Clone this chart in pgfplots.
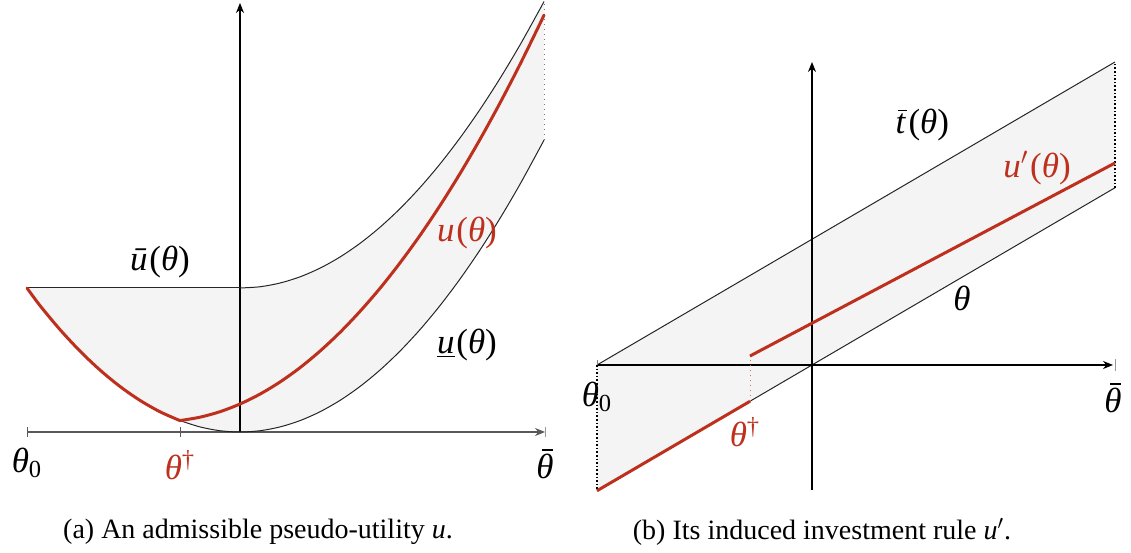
\documentclass[border=0pt]{standalone}
\usepackage{pgfplots}
\pgfplotsset{compat=1.18}
\usepgfplotslibrary{fillbetween}
\usetikzlibrary{arrows.meta}
\usepackage{fontspec}
\setmainfont{Liberation Serif}

\definecolor{ured}{RGB}{190,48,30}
\definecolor{band}{RGB}{244,244,244}

% italic symbols set in the text font
\newcommand{\barred}[3]{\leavevmode\vbox{\offinterlineskip\halign{\hfil##\hfil\cr
  \kern#1\rule{#2}{0.05em}\cr\noalign{\kern0.07em}\textit{#3}\cr}}}
\newcommand{\tht}{\textit{θ}}
\newcommand{\thz}{\tht\textsubscript{0}}
\newcommand{\thd}{\tht\textsuperscript{†}}
\newcommand{\thb}{\barred{0.14em}{0.3em}{θ}}
\newcommand{\ofth}{\kern0.05em(\tht\/)}

\pgfplotsset{
  panel/.style={scale only axis, axis lines=none, clip=false, anchor=south west, width=259pt},
}
\tikzset{axarrow/.style={line width=0.6pt, -{Stealth[length=5pt,width=4pt]}},
  lbl/.style={font=\fontsize{17.5}{20}\selectfont}}

\begin{document}
\begin{tikzpicture}[every node/.style={font=\fontsize{14}{17}\selectfont}]

% ---------- (a) pseudo-utility ----------
\begin{axis}[panel, at={(13.5pt,57.5pt)}, height=216pt,
  xmin=-2.13, xmax=3.05, ymin=0, ymax=4.32]
  % upper envelope
  \addplot[name path=ubar, draw=none, smooth] coordinates {
    (-2.13,1.44) (-1.6,1.44) (-1.2,1.44) (-0.8,1.44) (-0.4,1.44) (-0.2,1.44) (0,1.44)
    (0.2,1.4524) (0.4,1.4896) (0.6,1.5516)
    (0.8,1.6384) (1.0,1.75) (1.2,1.8864) (1.4,2.0476) (1.6,2.2336) (1.8,2.4444)
    (2.0,2.68) (2.2,2.9404) (2.4,3.2256) (2.6,3.5356) (2.8,3.8704) (3.0,4.23) (3.04,4.3049)};
  % lower envelope
  \addplot[name path=ulow, draw=none, smooth] coordinates {
    (-2.13,1.44) (-2.0,1.264) (-1.8,1.0238) (-1.6,0.809) (-1.4,0.6194) (-1.2,0.455)
    (-1.0,0.316) (-0.8,0.2022) (-0.6,0.1138) (-0.4,0.0506) (-0.2,0.0126) (0,0)
    (0.2,0.0126) (0.4,0.0506) (0.6,0.1138) (0.8,0.2022) (1.0,0.316) (1.2,0.455)
    (1.4,0.6194) (1.6,0.809) (1.8,1.0238) (2.0,1.264) (2.2,1.5294) (2.4,1.8202)
    (2.6,2.1362) (2.8,2.4774) (3.0,2.844) (3.04,2.9203)};
  \addplot[band] fill between[of=ubar and ulow];

  % axes
  \draw[black!65, axarrow] (axis cs:-2.13,0) -- (axis cs:3.05,0);
  \draw[black!65, line width=0.5pt] (axis cs:-2.13,-0.05) -- (axis cs:-2.13,0.05);
  \draw[black!65, line width=0.5pt] (axis cs:-0.6,-0.05) -- (axis cs:-0.6,0.05);
  \draw[black!40, line width=0.5pt] (axis cs:3.05,-0.05) -- (axis cs:3.05,0.05);
  \draw[black, axarrow] (axis cs:0,0) -- (axis cs:0,4.29);
  \draw[black!55, line width=0.5pt, dotted] (axis cs:3.04,2.92) -- (axis cs:3.04,4.30);

  % envelopes
  \addplot[black!85, line width=0.5pt] coordinates {(-2.13,1.44) (0,1.44)};
  \addplot[black!85, line width=0.5pt, smooth] coordinates {
    (0,1.44) (0.2,1.4524) (0.4,1.4896) (0.6,1.5516)
    (0.8,1.6384) (1.0,1.75) (1.2,1.8864) (1.4,2.0476) (1.6,2.2336) (1.8,2.4444)
    (2.0,2.68) (2.2,2.9404) (2.4,3.2256) (2.6,3.5356) (2.8,3.8704) (3.0,4.23) (3.04,4.3049)};
  \addplot[black!85, line width=0.5pt, smooth] coordinates {
    (-0.6,0.1138) (-0.4,0.0506) (-0.2,0.0126) (0,0)
    (0.2,0.0126) (0.4,0.0506) (0.6,0.1138) (0.8,0.2022) (1.0,0.316) (1.2,0.455)
    (1.4,0.6194) (1.6,0.809) (1.8,1.0238) (2.0,1.264) (2.2,1.5294) (2.4,1.8202)
    (2.6,2.1362) (2.8,2.4774) (3.0,2.844) (3.04,2.9203)};

  % admissible pseudo-utility u
  \addplot[ured, line width=1.5pt, smooth, line cap=round] coordinates {
    (-2.13,1.44) (-2.0,1.264) (-1.8,1.0238) (-1.6,0.809) (-1.4,0.6194) (-1.2,0.455)
    (-1.0,0.316) (-0.8,0.2022) (-0.6,0.1138)};
  \addplot[ured, line width=1.5pt, smooth, line cap=round] coordinates {
    (-0.6,0.114) (-0.4,0.148) (-0.2,0.203) (0,0.280) (0.2,0.379) (0.4,0.500)
    (0.6,0.643) (0.8,0.809) (1.0,0.996) (1.2,1.206) (1.4,1.437) (1.6,1.691)
    (1.8,1.966) (2.0,2.264) (2.2,2.584) (2.4,2.926) (2.6,3.290) (2.8,3.676)
    (3.0,4.084) (3.04,4.169)};

  \node[lbl] at (axis cs:-0.80,1.70) {\textit{ū}\ofth};
  \node[lbl, text=ured] at (axis cs:2.27,1.99) {\textit{u}\ofth};
  \node[lbl] at (axis cs:2.27,0.87) {\underline{\textit{u}}\ofth};
  \node[lbl] at (axis cs:-2.13,-0.31) {\thz};
  \node[lbl, text=ured] at (axis cs:-0.6,-0.33) {\thd};
  \node[lbl] at (axis cs:3.05,-0.32) {\thb};
\end{axis}

% ---------- (b) investment rule ----------
\begin{axis}[panel, at={(298.5pt,28.5pt)}, height=214pt,
  xmin=-2.15, xmax=3.03, ymin=-1.25, ymax=3.03]
  \addplot[name path=tbar, draw=none] coordinates {(-2.15,0) (3.03,3.03)};
  \addplot[name path=diag, draw=none] coordinates {(-2.15,-1.2576) (3.03,1.7724)};
  \addplot[band] fill between[of=tbar and diag];
  \addplot[black!85, line width=0.5pt] coordinates {(-2.15,0) (3.03,3.03)};
  \addplot[black!85, line width=0.5pt] coordinates {(-2.15,-1.2576) (3.03,1.7724)};

  % axes
  \draw[black, axarrow] (axis cs:-2.15,0) -- (axis cs:3.01,0);
  \draw[black!50, line width=0.5pt] (axis cs:-2.15,0) -- (axis cs:-2.15,0.05);
  \draw[black!40, line width=0.5pt] (axis cs:3.03,-0.06) -- (axis cs:3.03,0.06);
  \draw[black, axarrow] (axis cs:0,-1.25) -- (axis cs:0,3.03);

  \draw[black, line width=0.8pt, densely dotted] (axis cs:-2.15,0) -- (axis cs:-2.15,-1.2576);
  \draw[black, line width=0.8pt, densely dotted] (axis cs:3.03,1.7724) -- (axis cs:3.03,3.03);
  \draw[ured!70, line width=0.5pt, dotted] (axis cs:-0.62,-0.363) -- (axis cs:-0.62,0.09);

  % induced rule u'
  \addplot[ured, line width=1.5pt] coordinates {(-2.15,-1.2576) (-0.62,-0.363)};
  \addplot[ured, line width=1.5pt] coordinates {(-0.62,0.09) (3.03,2.02)};

  \node[lbl] at (axis cs:1.10,2.40) {\barred{0.1em}{0.24em}{t}\ofth};
  \node[lbl, text=ured] at (axis cs:2.25,1.97) {\textit{u}$'$\ofth};
  \node[lbl] at (axis cs:1.50,0.67) {\tht};
  \node[lbl] at (axis cs:-2.15,-0.32) {\thz};
  \node[lbl, text=ured] at (axis cs:-0.67,-0.67) {\thd};
  \node[lbl] at (axis cs:3.01,-0.33) {\thb};
\end{axis}

\node at (129pt,7.5pt) {(a) An admissible pseudo-utility \textit{u}.};
\node at (411pt,7.5pt) {(b) Its induced investment rule \textit{u}$'$.};
% page frame
\path (0,0) rectangle (565.5pt,273.5pt);
\end{tikzpicture}
\end{document}
